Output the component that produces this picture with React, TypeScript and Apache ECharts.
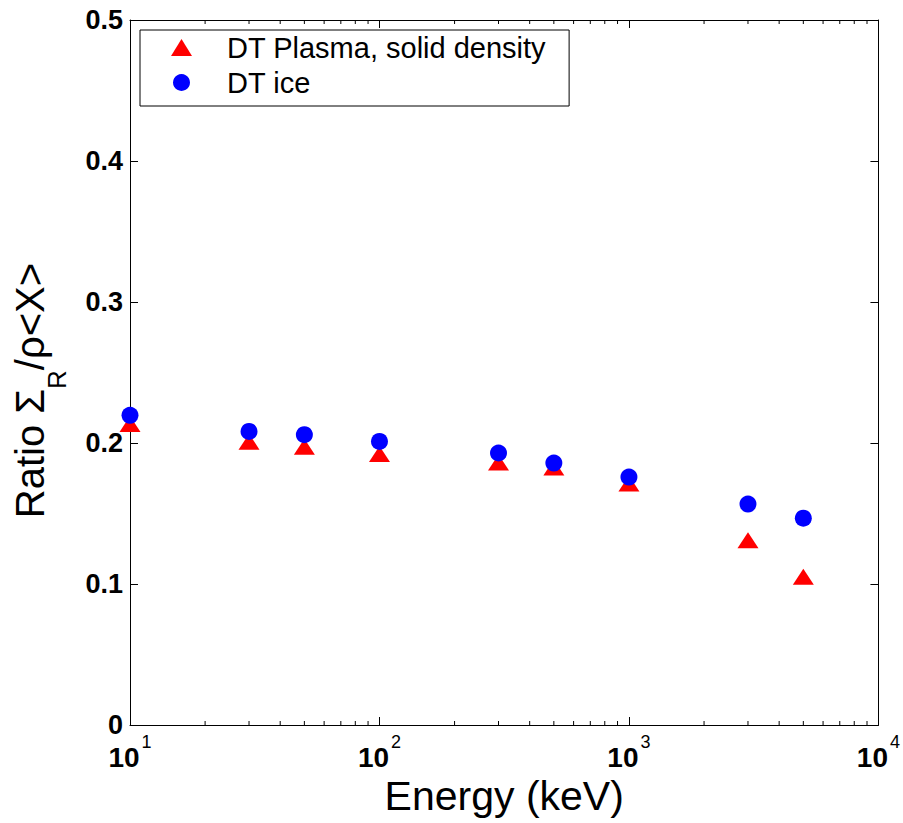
import React, { useEffect, useRef } from 'react';
import * as echarts from 'echarts';

// Energies (keV) at which both materials were evaluated
const energies = [10, 30, 50, 100, 300, 500, 1000, 3000, 5000];
// Ratio Σ_R / ρ<X>
const plasmaRatio = [0.2134, 0.2009, 0.1974, 0.1922, 0.1862, 0.1827, 0.1713, 0.1311, 0.1051];
const iceRatio = [0.2196, 0.2082, 0.2059, 0.2011, 0.1929, 0.1858, 0.1758, 0.1567, 0.1467];
const seriesNames = ['DT Plasma, solid density', 'DT ice'];

// axis description
const xMin = 10;
const xMax = 10000;
const yMin = 0;
const yMax = 0.5;
const yInterval = 0.1;
const minorDecades = [10, 100, 1000];
const minorMultipliers = [2, 3, 4, 5, 6, 7, 8, 9];
const minorTicks: number[] = [];
minorDecades.forEach((d) => minorMultipliers.forEach((m) => minorTicks.push(d * m)));

const FONT = 'Liberation Sans, Arial, sans-serif';

export default function App() {
  const ref = useRef<HTMLDivElement>(null);
  useEffect(() => {
    document.body.style.margin = '0';
    if (!ref.current) return;
    const chart = echarts.init(ref.current, undefined, { renderer: 'svg' });
    const axisLine = { show: true, onZero: false, lineStyle: { color: '#000', width: 1 } };
    const option: any = {
      animation: false,
      backgroundColor: '#fff',
      grid: { left: 130, right: 21, top: 20, bottom: 98 },
      legend: {
        data: seriesNames.map((n, i) => ({ name: n, icon: i === 0 ? 'triangle' : 'circle' })),
        orient: 'vertical',
        left: 140,
        top: 30,
        itemWidth: 21,
        itemHeight: 17,
        itemGap: 6,
        padding: [3, 23, 9, 31],
        borderColor: '#000',
        borderWidth: 1,
        backgroundColor: '#fff',
        textStyle: { fontSize: 29, fontFamily: FONT, color: '#000', padding: [0, 0, 0, 30] },
      },
      xAxis: [
        {
          type: 'log',
          logBase: 10,
          min: xMin,
          max: xMax,
          position: 'bottom',
          axisLine,
          axisTick: { show: true, inside: true, length: 8, lineStyle: { color: '#000' } },
          splitLine: { show: false },
          axisLabel: {
            margin: 8,
            formatter: (v: number) => `{b|10}{s|${Math.round(Math.log10(v))}}`,
            rich: {
              b: { fontSize: 28, fontWeight: 'bold', fontFamily: FONT, color: '#000', lineHeight: 38, verticalAlign: 'bottom' },
              s: { fontSize: 18, fontFamily: FONT, color: '#000', verticalAlign: 'top', padding: [0, 0, 0, 2] },
            },
          },
          name: 'Energy (keV)',
          nameLocation: 'middle',
          nameGap: 46,
          nameTextStyle: { fontSize: 41, fontFamily: FONT, color: '#000' },
        },
        {
          type: 'log',
          logBase: 10,
          min: xMin,
          max: xMax,
          position: 'top',
          axisLine,
          axisTick: { show: true, inside: true, length: 8, lineStyle: { color: '#000' } },
          axisLabel: { show: false },
          splitLine: { show: false },
        },
      ],
      yAxis: [
        {
          type: 'value',
          min: yMin,
          max: yMax,
          interval: yInterval,
          position: 'left',
          axisLine,
          axisTick: { show: true, inside: true, length: 8, lineStyle: { color: '#000' } },
          splitLine: { show: false },
          axisLabel: { margin: 7, fontSize: 27, fontWeight: 'bold', fontFamily: FONT, color: '#000' },
          name: '{m|Ratio Σ}{s|R}{m|/ρ<X>}',
          nameLocation: 'middle',
          nameRotate: 90,
          nameGap: 60,
          nameTextStyle: {
            padding: [0, 36, 0, 0],
            rich: {
              m: { fontSize: 40, fontFamily: FONT, color: '#000', lineHeight: 60, verticalAlign: 'top' },
              s: { fontSize: 26, fontFamily: FONT, color: '#000', verticalAlign: 'bottom' },
            },
          },
        },
        {
          type: 'value',
          min: yMin,
          max: yMax,
          interval: yInterval,
          position: 'right',
          axisLine,
          axisTick: { show: true, inside: true, length: 8, lineStyle: { color: '#000' } },
          axisLabel: { show: false },
          splitLine: { show: false },
        },
      ],
      series: [
        {
          type: 'custom',
          silent: true,
          clip: false,
          xAxisIndex: 0,
          yAxisIndex: 0,
          data: minorTicks.map((v) => [v, yMin]),
          renderItem: (params: any, api: any) => {
            const v = api.value(0);
            const b = api.coord([v, yMin]);
            const t = api.coord([v, yMax]);
            return {
              type: 'group',
              children: [
                { type: 'line', shape: { x1: b[0], y1: b[1], x2: b[0], y2: b[1] - 4 }, style: { stroke: '#000', lineWidth: 1 } },
                { type: 'line', shape: { x1: t[0], y1: t[1], x2: t[0], y2: t[1] + 4 }, style: { stroke: '#000', lineWidth: 1 } },
              ],
            };
          },
        },
        {
          name: seriesNames[0],
          type: 'scatter',
          symbol: 'triangle',
          symbolSize: [21, 16],
          clip: false,
          itemStyle: { color: '#ff0000', opacity: 1 },
          data: energies.map((e, i) => [e, plasmaRatio[i]]),
        },
        {
          name: seriesNames[1],
          type: 'scatter',
          symbol: 'circle',
          symbolSize: 17,
          clip: false,
          itemStyle: { color: '#0000ff', opacity: 1 },
          data: energies.map((e, i) => [e, iceRatio[i]]),
        },
      ],
    };
    chart.setOption(option);
    return () => chart.dispose();
  }, []);
  return <div ref={ref} style={{ width: 903, height: 823 }} />;
}
